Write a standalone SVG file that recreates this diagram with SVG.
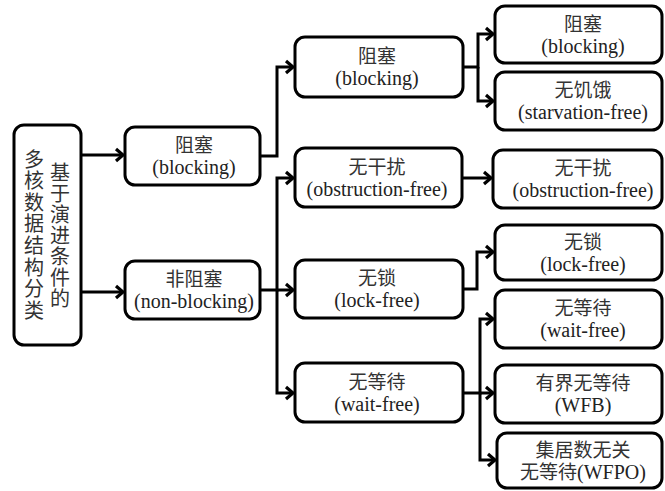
<svg xmlns="http://www.w3.org/2000/svg" width="665" height="491" viewBox="0 0 665 491">
<defs>
<style>
.box{fill:#fff;stroke:#000;stroke-width:3}
.t{font-family:"Noto Sans CJK SC",sans-serif;font-size:19px;fill:#333;text-anchor:middle}
.e{font-family:"Liberation Serif",serif;font-size:20px;fill:#222;text-anchor:middle}
.v{font-family:"Noto Sans CJK SC",sans-serif;font-size:20px;fill:#333;writing-mode:vertical-rl}
.c{fill:none;stroke:#000;stroke-width:3;marker-end:url(#ah)}
</style>
<marker id="ah" markerUnits="userSpaceOnUse" markerWidth="14" markerHeight="16" refX="9" refY="7" orient="auto" overflow="visible">
<path d="M2,1 L9,7 L2,13" fill="none" stroke="#000" stroke-width="3.2"/>
</marker>
</defs>
<rect width="665" height="491" fill="#fff"/>
<g id="connectors">
<path class="c" d="M81,155 H123"/>
<path class="c" d="M81,292 H123"/>
<path class="c" d="M260,156 H277 V67 H293"/>
<path class="c" d="M260,290 H277 V178 H293"/>
<path class="c" d="M277,290 H293"/>
<path class="c" d="M277,290 V393 H293"/>
<path class="c" d="M463,67 H478 V34 H493"/>
<path class="c" d="M478,67 V101 H493"/>
<path class="c" d="M462,178 H491"/>
<path class="c" d="M463,289 H477 V252 H493"/>
<path class="c" d="M463,393 H480 V319 H493"/>
<path class="c" d="M480,393 H493"/>
<path class="c" d="M480,393 V460 H495"/>
</g>
<g id="root">
<rect class="box" x="14" y="125" width="67" height="220" rx="10"/>
<text class="v" x="34" y="149" letter-spacing="1.6">多核数据结构分类</text>
<text class="v" x="60" y="162" letter-spacing="1">基于演进条件的</text>
</g>
<g id="blocking1">
<rect class="box" x="125" y="127" width="135" height="58" rx="10"/>
<text class="t" x="194" y="152">阻塞</text>
<text class="e" font-family="Liberation Serif, serif" x="194" y="174">(blocking)</text>
</g>
<g id="nonblocking1">
<rect class="box" x="125" y="261" width="135" height="58" rx="10"/>
<text class="t" x="194" y="286">非阻塞</text>
<text class="e" x="194" y="308">(non-blocking)</text>
</g>
<g id="blocking2">
<rect class="box" x="295" y="37" width="168" height="60" rx="10"/>
<text class="t" x="377" y="63">阻塞</text>
<text class="e" x="377" y="85">(blocking)</text>
</g>
<g id="obstruction2">
<rect class="box" x="295" y="148" width="167" height="59" rx="10"/>
<text class="t" x="377" y="174">无干扰</text>
<text class="e" x="377" y="196">(obstruction-free)</text>
</g>
<g id="lockfree2">
<rect class="box" x="295" y="260" width="168" height="58" rx="10"/>
<text class="t" x="377" y="285">无锁</text>
<text class="e" x="377" y="307">(lock-free)</text>
</g>
<g id="waitfree2">
<rect class="box" x="295" y="363" width="168" height="59" rx="10"/>
<text class="t" x="377" y="389">无等待</text>
<text class="e" x="377" y="411">(wait-free)</text>
</g>
<g id="blocking3">
<rect class="box" x="495" y="6" width="167" height="57" rx="10"/>
<text class="t" x="583" y="31">阻塞</text>
<text class="e" x="583" y="53">(blocking)</text>
</g>
<g id="starvation3">
<rect class="box" x="495" y="72" width="167" height="58" rx="10"/>
<text class="t" x="583" y="97">无饥饿</text>
<text class="e" x="583" y="119">(starvation-free)</text>
</g>
<g id="obstruction3">
<rect class="box" x="493" y="150" width="169" height="58" rx="10"/>
<text class="t" x="583" y="175">无干扰</text>
<text class="e" x="583" y="197">(obstruction-free)</text>
</g>
<g id="lockfree3">
<rect class="box" x="495" y="225" width="167" height="55" rx="10"/>
<text class="t" x="583" y="249">无锁</text>
<text class="e" x="583" y="271">(lock-free)</text>
</g>
<g id="waitfree3">
<rect class="box" x="495" y="290" width="167" height="58" rx="10"/>
<text class="t" x="583" y="315">无等待</text>
<text class="e" x="583" y="337">(wait-free)</text>
</g>
<g id="wfb3">
<rect class="box" x="495" y="365" width="167" height="58" rx="10"/>
<text class="t" x="583" y="390">有界无等待</text>
<text class="e" x="583" y="412">(WFB)</text>
</g>
<g id="wfpo3">
<rect class="box" x="497" y="433" width="165" height="55" rx="10"/>
<text class="t" x="583" y="457">集居数无关</text>
<text class="e" x="583" y="479"><tspan style="font-family:'Noto Sans CJK SC',sans-serif;font-size:19px;fill:#333">无等待</tspan>(WFPO)</text>
</g>
</svg>
